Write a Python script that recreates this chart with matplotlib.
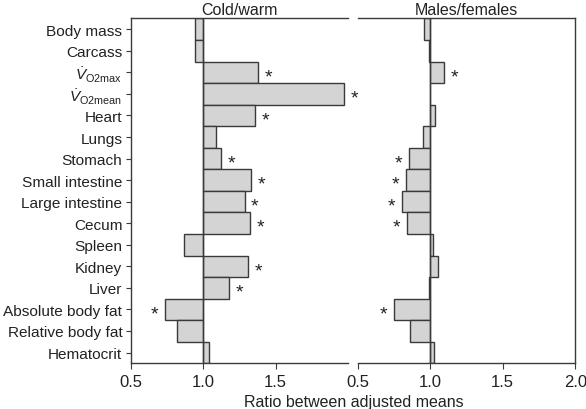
import numpy as np
import matplotlib
matplotlib.use("Agg")
import matplotlib.pyplot as plt

plt.rcParams['font.family'] = ['Liberation Sans', 'DejaVu Sans']
plt.rcParams['mathtext.fontset'] = 'custom'
plt.rcParams['mathtext.rm'] = 'Liberation Sans'
plt.rcParams['mathtext.it'] = 'Liberation Sans:italic'

labels = ['Body mass', 'Carcass', r'$\dot{V}_{\mathrm{O2max}}$', r'$\dot{V}_{\mathrm{O2mean}}$',
          'Heart', 'Lungs', 'Stomach', 'Small intestine', 'Large intestine', 'Cecum',
          'Spleen', 'Kidney', 'Liver', 'Absolute body fat', 'Relative body fat', 'Hematocrit']

cold_warm = [0.94, 0.94, 1.38, 1.97, 1.36, 1.087, 1.126, 1.327, 1.285, 1.32,
             0.87, 1.311, 1.177, 0.739, 0.818, 1.043]
cold_warm_sig = [0, 0, 1, 1, 1, 0, 1, 1, 1, 1, 0, 1, 1, 1, 0, 0]

males_females = [0.955, 0.989, 1.092, 0.998, 1.03, 0.952, 0.855, 0.834, 0.805, 0.841,
                 1.016, 1.053, 0.989, 0.75, 0.858, 1.026]
males_females_sig = [0, 0, 1, 0, 0, 0, 1, 1, 1, 1, 0, 0, 0, 1, 0, 0]

fig = plt.figure(figsize=(5.86, 4.10), dpi=100)
ax1 = fig.add_axes([0.2230, 0.1115, 0.3713, 0.841])
ax2 = fig.add_axes([0.6104, 0.1115, 0.3713, 0.841])

edge = '#3a3a3a'
fill = '#d4d4d4'
txt = '#222222'
fs = 11.5

y = np.arange(len(labels))

for ax, vals, sig, title in [(ax1, cold_warm, cold_warm_sig, 'Cold/warm'),
                             (ax2, males_females, males_females_sig, 'Males/females')]:
    widths = np.array(vals) - 1.0
    ax.barh(y, widths, left=1.0, height=1.0, color=fill, edgecolor=edge, linewidth=1.0)
    ax.axvline(1.0, color=edge, linewidth=1.0, zorder=3)
    for yi, v, s in zip(y, vals, sig):
        if s:
            off = 7.5 if v > 1 else -7.5
            ax.annotate('*', (v, yi), xytext=(off, -3), textcoords='offset points',
                        ha='center', va='center', fontsize=14, color=txt)
    ax.set_xlim(0.5, 2.0)
    ax.set_ylim(len(labels) - 0.5, -0.5)
    ax.set_xticks([0.5, 1.0, 1.5, 2.0])
    ax.set_xticklabels(['0.5', '1.0', '1.5', '2.0'], fontsize=fs + 0.5, color=txt)
    ax.set_title(title, fontsize=fs, pad=3, color=txt)
    ax.tick_params(axis='x', direction='out', length=4, color=edge, pad=4)
    for sp in ax.spines.values():
        sp.set_color(edge)
        sp.set_linewidth(1.0)

ax1.set_xticks([0.5, 1.0, 1.5])
ax1.set_xticklabels(['0.5', '1.0', '1.5'])
ax1.spines['right'].set_visible(False)
ax1.set_yticks(y)
ax1.set_yticklabels(labels, fontsize=11.1, color=txt)
ax1.tick_params(axis='y', direction='out', length=3.5, color=edge, pad=2.5)

ax2.spines['left'].set_visible(False)
ax2.set_yticks([])

fig.text(354 / 586, 1 - 395 / 410, 'Ratio between adjusted means', ha='center', va='top',
         fontsize=fs, color=txt)

fig.savefig('out.png', dpi=100)
